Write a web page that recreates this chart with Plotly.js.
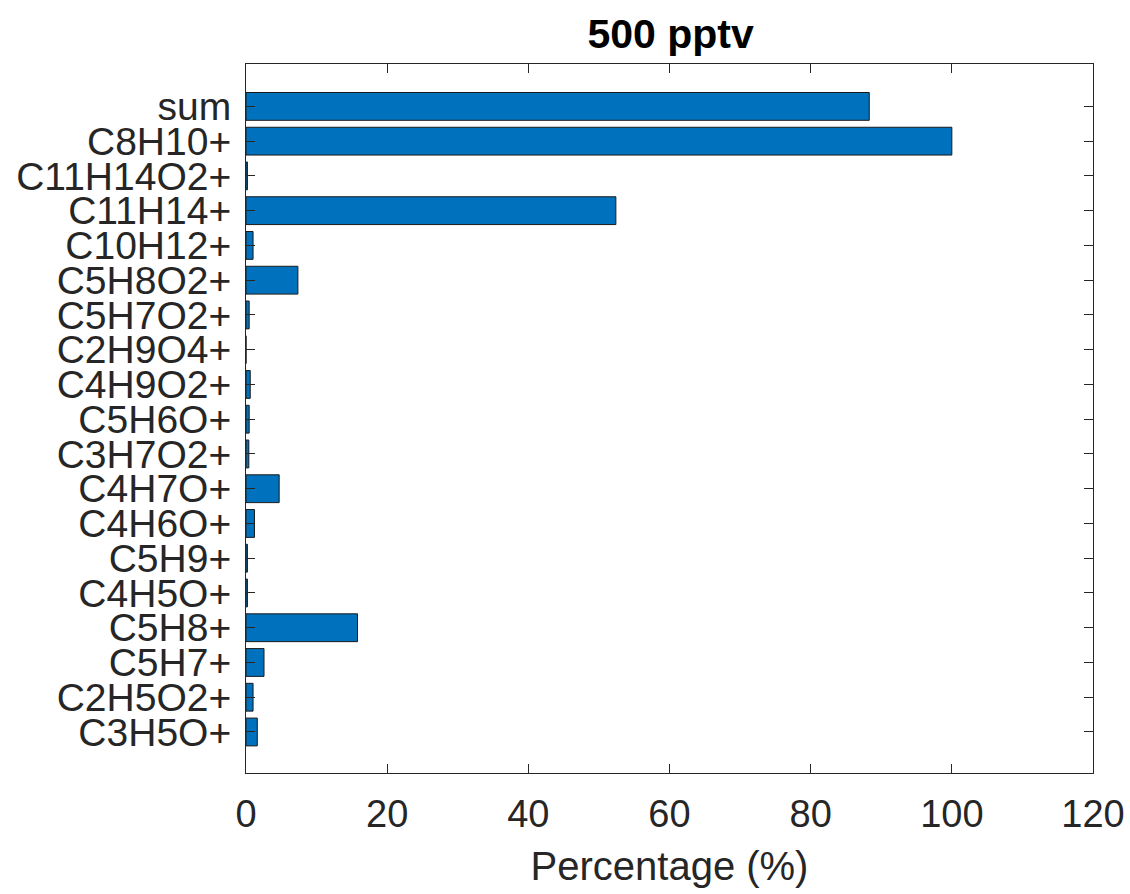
<!DOCTYPE html>
<html>
<head>
<meta charset="utf-8">
<script src="https://cdn.plot.ly/plotly-3.0.1.min.js"></script>
<style>html,body{margin:0;padding:0;background:#fff;}#chart{width:1130px;height:894px;}</style>
</head>
<body>
<div id="chart"></div>
<script>
// categories from bottom to top
const categories = ["C3H5O+","C2H5O2+","C5H7+","C5H8+","C4H5O+","C5H9+","C4H6O+","C4H7O+","C3H7O2+","C5H6O+","C4H9O2+","C2H9O4+","C5H7O2+","C5H8O2+","C10H12+","C11H14+","C11H14O2+","C8H10+","sum"];
const percentages = [1.6, 1.0, 2.55, 15.8, 0.2, 0.2, 1.2, 4.7, 0.4, 0.45, 0.6, 0.0, 0.45, 7.35, 1.0, 52.4, 0.2, 100.0, 88.3];
const xTicks = [0, 20, 40, 60, 80, 100, 120];
const titleText = "500 pptv";
const xTitle = "Percentage (%)";

const axisColor = "#262626";
const fontFam = "Liberation Sans, Arial, Helvetica, sans-serif";

const trace = {
  type: "bar",
  orientation: "h",
  x: percentages,
  y: categories,
  width: 0.8,
  marker: {color: "#0072BD", line: {color: "#1a1a1a", width: 1}},
  hoverinfo: "x+y"
};

const layout = {
  width: 1130, height: 894,
  margin: {l: 246, r: 37, t: 64, b: 121, pad: 0},
  paper_bgcolor: "#ffffff",
  plot_bgcolor: "#ffffff",
  showlegend: false,
  title: {
    text: "<b>" + titleText + "</b>",
    font: {family: fontFam, size: 41, color: "#000000"},
    x: 0.5935, xref: "container", xanchor: "center",
    y: 1 - 34/894, yref: "container", yanchor: "middle"
  },
  xaxis: {
    range: [0, 120],
    tickmode: "array",
    tickvals: xTicks,
    ticktext: xTicks.map(String),
    ticks: "inside", ticklen: 9, tickwidth: 1, tickcolor: axisColor,
    showline: true, linecolor: axisColor, linewidth: 1, mirror: "ticks",
    showgrid: false, zeroline: false,
    tickfont: {family: fontFam, size: 38, color: axisColor},
    ticklabelstandoff: 7,
    title: {text: xTitle, font: {family: fontFam, size: 40, color: axisColor}, standoff: 18},
    fixedrange: true
  },
  yaxis: {
    type: "category",
    categoryorder: "array",
    categoryarray: categories,
    tickmode: "array",
    tickvals: categories,
    ticktext: categories,
    range: [-1.18, 19.22],
    ticks: "inside", ticklen: 9, tickwidth: 1, tickcolor: axisColor,
    showline: true, linecolor: axisColor, linewidth: 1, mirror: "ticks",
    showgrid: false, zeroline: false,
    tickfont: {family: fontFam, size: 39, color: axisColor},
    ticklabelstandoff: 6,
    fixedrange: true
  }
};

Plotly.newPlot("chart", [trace], layout, {displayModeBar: false, staticPlot: true});
</script>
</body>
</html>
